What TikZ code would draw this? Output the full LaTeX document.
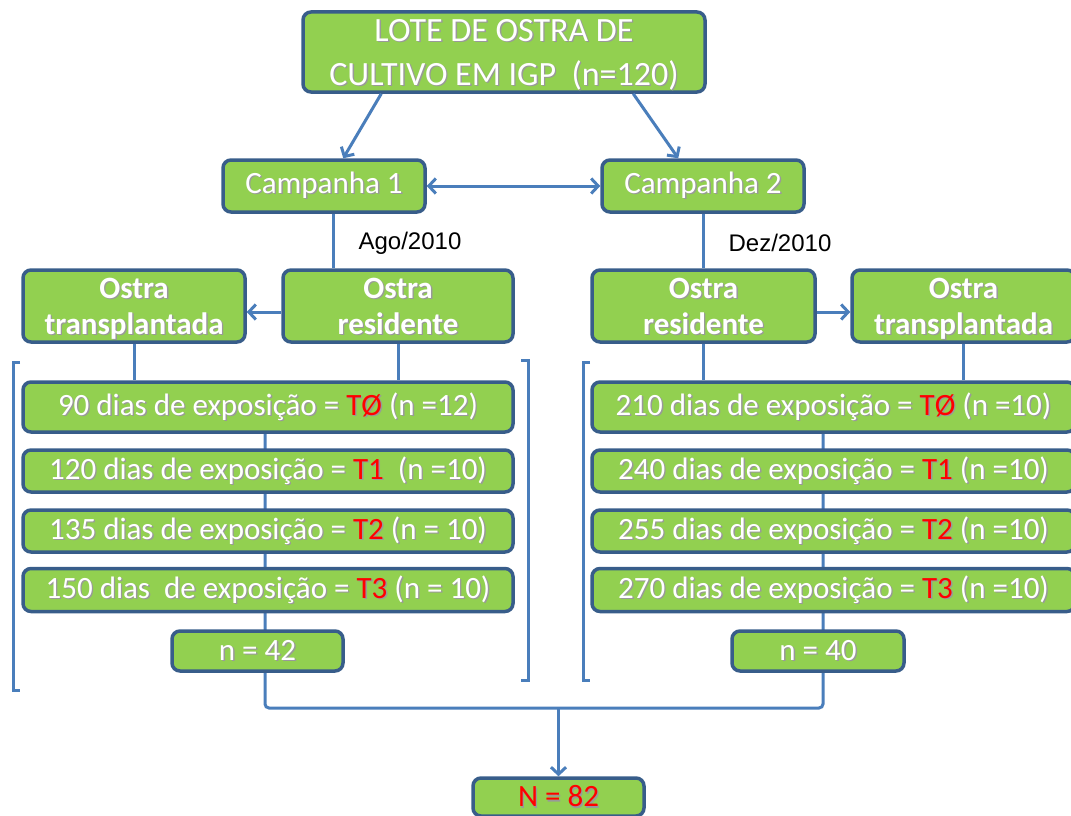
\documentclass[tikz,border=0pt]{standalone}
\usepackage{fontspec}
\setmainfont{Carlito}
\newfontfamily\arial{Liberation Sans}
\usepackage{tikz}
\usetikzlibrary{calc}
\usetikzlibrary{arrows.meta,backgrounds}
\usepackage{xcolor}
\definecolor{verde}{HTML}{92D050}
\definecolor{borda}{HTML}{385D8A}
\definecolor{azul}{HTML}{4A7EBB}
\definecolor{vermelho}{HTML}{FF0000}
\newcommand{\verm}{\textcolor{vermelho}}
\newcommand{\sombra}[1]{\makebox[0pt][l]{\kern1.4pt\raisebox{-1.4pt}{\colorlet{vermelho}{black!40}\color{black!40}#1}}#1}

\begin{document}
\begin{tikzpicture}[x=1pt,y=-1pt,
    caixa/.style={draw=borda,fill=verde,line width=3.5pt,rounded corners=8pt,
      text=white,inner sep=0pt,align=center,font=\fontsize{31}{37}\selectfont},
    caixaN/.style={caixa,font=\fontsize{31}{36}\selectfont\bfseries,minimum height=72,
      text depth=0pt},
    linha/.style={draw=azul,line width=3pt},
    seta/.style={linha,-{Straight Barb[length=7pt,width=15pt]}},
    seta2/.style={linha,{Straight Barb[length=7pt,width=15pt]}-{Straight Barb[length=7pt,width=15pt]}},
    data/.style={font=\arial\fontsize{24}{28}\selectfont}]
  \useasboundingbox (0,0) rectangle (1071,816);

  % topo
  \node[caixa,minimum width=402,minimum height=80,font=\fontsize{34}{44}\selectfont,text depth=0pt] (lote) at (504,52)
    {\sombra{LOTE DE OSTRA DE}\\\sombra{CULTIVO EM IGP\ \ (n=120)}};
  \node[caixa,minimum width=202,minimum height=52] (camp1) at (324,186) {\sombra{Campanha 1}};
  \node[caixa,minimum width=202,minimum height=52] (camp2) at (703,186) {\sombra{Campanha 2}};
  \node[data] (ago) at (410,243) {Ago/2010};
  \node[data] (dez) at (780,243) {Dez/2010};

  % ostras
  \node[caixaN,minimum width=222] (transE) at (134,306) {\sombra{Ostra}\\\sombra{transplantada}};
  \node[caixaN,minimum width=230] (resE) at (398,306) {\sombra{Ostra}\\\sombra{residente}};
  \node[caixaN,minimum width=223] (resD) at (703.5,306) {\sombra{Ostra}\\\sombra{residente}};
  \node[caixaN,minimum width=223] (transD) at (963.5,306) {\sombra{Ostra}\\\sombra{transplantada}};

  % campanha 1
  \node[caixa,minimum width=490,minimum height=50] (e0) at (268,407)
    {\sombra{90 dias de exposição = \verm{TØ} (n =12)}};
  \node[caixa,minimum width=490,minimum height=42] (e1) at (268,471)
    {\sombra{120 dias de exposição = \verm{T1}\ \ (n =10)}};
  \node[caixa,minimum width=490,minimum height=42] (e2) at (268,531)
    {\sombra{135 dias de exposição = \verm{T2} (n = 10)}};
  \node[caixa,minimum width=490,minimum height=43] (e3) at (268,590)
    {\sombra{150 dias\ \ de exposição = \verm{T3} (n = 10)}};
  \node[caixa,minimum width=171,minimum height=40] (n42) at (257.5,651) {\sombra{n = 42}};

  % campanha 2
  \node[caixa,minimum width=483,minimum height=50] (d0) at (833.5,407)
    {\sombra{210 dias de exposição = \verm{TØ} (n =10)}};
  \node[caixa,minimum width=483,minimum height=42] (d1) at (833.5,471)
    {\sombra{240 dias de exposição = \verm{T1} (n =10)}};
  \node[caixa,minimum width=483,minimum height=42] (d2) at (833.5,531)
    {\sombra{255 dias de exposição = \verm{T2} (n =10)}};
  \node[caixa,minimum width=483,minimum height=43] (d3) at (833.5,590)
    {\sombra{270 dias de exposição = \verm{T3} (n =10)}};
  \node[caixa,minimum width=172,minimum height=40] (n40) at (818,651) {\sombra{n = 40}};

  \node[caixa,minimum width=171,minimum height=38] (soma) at (558.5,797) {\sombra{\verm{N = 82}}};

  % ligacoes
  \draw[seta] ([xshift=80pt]lote.south west) -- ([xshift=122pt]camp1.north west);
  \draw[seta] ([xshift=332pt]lote.south west) -- ([xshift=78pt]camp2.north west);
  \draw[seta2] (camp1.east) -- (camp2.west);
  \draw[linha] (camp1.south) ++(9,0) coordinate (c1) -- (c1 |- resE.north);
  \draw[linha] (camp2.south) -- (camp2.south |- resD.north);
  \draw[seta] ([yshift=-6pt]resE.west) -- ([yshift=-6pt]transE.east);
  \draw[seta] ([yshift=-6pt]resD.east) -- ([yshift=-6pt]transD.west);
  \draw[linha] (transE.south) -- (transE.south |- e0.north);
  \draw[linha] (resE.south) -- (resE.south |- e0.north);
  \draw[linha] (resD.south) -- (resD.south |- d0.north);
  \draw[linha] (transD.south) -- (transD.south |- d0.north);

  \coordinate (jE) at (265,708);
  \coordinate (jD) at (823,708);
  \begin{scope}[on background layer]
    \draw[linha,rounded corners=4pt] (e0.south -| jE) -- (jE) -- (jD) -- (d0.south -| jD);
  \end{scope}
  \draw[seta] (jE -| soma) -- (soma.north);

  % colchetes
  \draw[linha] (20,362) -- (13,362) -- (13,690) -- (20,690);
  \draw[linha] (521,360) -- (528,360) -- (528,680) -- (521,680);
  \draw[linha] (590,362) -- (583,362) -- (583,680) -- (590,680);
\end{tikzpicture}
\end{document}
